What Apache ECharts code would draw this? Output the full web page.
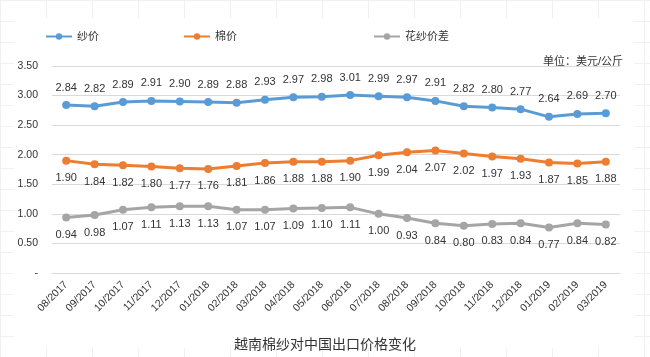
<!DOCTYPE html>
<html><head><meta charset="utf-8">
<script src="https://cdn.jsdelivr.net/npm/echarts@6/dist/echarts.min.js"></script>
<style>html,body{margin:0;padding:0;background:#fff}#c{width:650px;height:357px}</style>
</head><body><div id="c"></div>
<script>
const categories = ['08/2017','09/2017','10/2017','11/2017','12/2017','01/2018','02/2018','03/2018','04/2018','05/2018','06/2018','07/2018','08/2018','09/2018','10/2018','11/2018','12/2018','01/2019','02/2019','03/2019'];
const yarnPrice = [2.84,2.82,2.89,2.91,2.90,2.89,2.88,2.93,2.97,2.98,3.01,2.99,2.97,2.91,2.82,2.80,2.77,2.64,2.69,2.70];
const cottonPrice = [1.90,1.84,1.82,1.80,1.77,1.76,1.81,1.86,1.88,1.88,1.90,1.99,2.04,2.07,2.02,1.97,1.93,1.87,1.85,1.88];
const spread = [0.94,0.98,1.07,1.11,1.13,1.13,1.07,1.07,1.09,1.10,1.11,1.00,0.93,0.84,0.80,0.83,0.84,0.77,0.84,0.82];
const seriesNames = ['纱价','棉价','花纱价差'];
const colors = ['#5B9BD5','#ED7D31','#A5A5A5'];

const font = '"Liberation Sans", "Noto Sans CJK SC", sans-serif';
const chart = echarts.init(document.getElementById('c'), null, {renderer:'canvas'});

const bg = [];
for (let x = 0; x <= 650; x += 46) bg.push({type:'line', silent:true, z:-10, shape:{x1:x+0.5,y1:0,x2:x+0.5,y2:357}, style:{stroke:'#f0f0f0',lineWidth:1}});
for (let y = 0; y <= 357; y += 21) bg.push({type:'line', silent:true, z:-10, shape:{x1:0,y1:y+0.5,x2:650,y2:y+0.5}, style:{stroke:'#f0f0f0',lineWidth:1}});
bg.push({type:'rect', silent:true, z:-9, shape:{x:14,y:18,width:620,height:330}, style:{fill:'#fff'}});

function mkSeries(i, data, pos){
  return {
    name: seriesNames[i], type:'line', data: data,
    symbol:'circle', symbolSize:8,
    lineStyle:{color:colors[i], width:3},
    itemStyle:{color:colors[i]},
    label:{show:true, position:pos, distance:8, color:'#333', fontSize:11, fontFamily:font,
      formatter: p => p.value.toFixed(2)}
  };
}

chart.setOption({
  animation:false,
  backgroundColor:'#fff',
  graphic: bg,
  legend:[
    {data:[seriesNames[0]], left:40, top:26, itemWidth:26, itemHeight:8, textStyle:{fontSize:11, color:'#333', fontFamily:font}},
    {data:[seriesNames[1]], left:178, top:26, itemWidth:26, itemHeight:8, textStyle:{fontSize:11, color:'#333', fontFamily:font}},
    {data:[seriesNames[2]], left:368, top:26, itemWidth:26, itemHeight:8, textStyle:{fontSize:11, color:'#333', fontFamily:font}}
  ],
  title:[
    {text:'单位：美元/公斤', left:538, top:51, textStyle:{fontSize:11, fontWeight:'normal', color:'#333', fontFamily:font}},
    {text:'越南棉纱对中国出口价格变化', left:'center', top:333, textStyle:{fontSize:14, fontWeight:'normal', color:'#333', fontFamily:font}}
  ],
  grid:{left:52, right:30, top:66, bottom:84},
  xAxis:{
    type:'category', data:categories, boundaryGap:true,
    axisLine:{lineStyle:{color:'#d9d9d9'}}, axisTick:{show:false},
    axisLabel:{rotate:45, fontSize:10.5, color:'#333', fontFamily:font, margin:10}
  },
  yAxis:{
    type:'value', min:0, max:3.5, interval:0.5,
    axisLine:{show:false}, axisTick:{show:false},
    splitLine:{lineStyle:{color:'#d9d9d9', width:1}},
    axisLabel:{fontSize:10.5, color:'#333', fontFamily:font, margin:14,
      formatter: v => v === 0 ? '-' : v.toFixed(2)}
  },
  series:[
    mkSeries(0, yarnPrice, 'top'),
    mkSeries(1, cottonPrice, 'bottom'),
    mkSeries(2, spread, 'bottom')
  ]
});
</script></body></html>
